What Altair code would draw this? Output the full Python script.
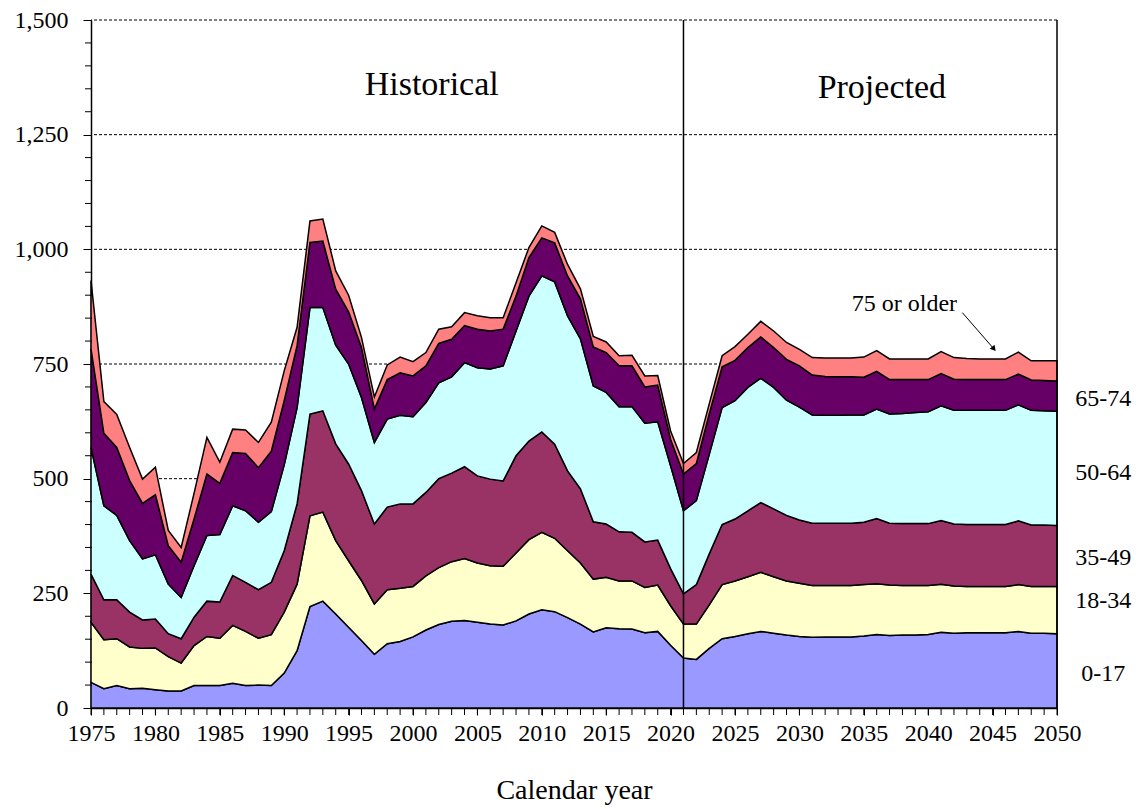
import altair as alt
import pandas as pd

years = list(range(1975, 2051))
age_groups = ["0-17", "18-34", "35-49", "50-64", "65-74", "75 or older"]
colors = ["#9999FF", "#FFFFCC", "#993366", "#CCFFFF", "#660066", "#FF8080"]

s_0_17 = [56, 42, 49, 42, 43, 40, 37, 37, 49, 49,
          49, 54, 49, 50, 49, 76, 125, 221, 233, 205,
          176, 147, 117, 140, 145, 155, 170, 182, 189, 191,
          187, 183, 181, 190, 205, 214, 210, 197, 183, 166,
          175, 173, 172, 164, 167, 137, 109, 106, 130, 151,
          156, 162, 167, 163, 159, 156, 154, 155, 155, 155,
          157, 160, 158, 159, 159, 160, 165, 163, 164, 164,
          164, 164, 167, 163, 163, 162]
s_18_34 = [131, 107, 102, 91, 87, 91, 75, 61, 87, 107,
           103, 126, 118, 102, 111, 133, 145, 198, 194, 160,
           145, 131, 110, 118, 116, 110, 118, 124, 130, 135,
           129, 127, 128, 148, 162, 169, 160, 146, 133, 115,
           110, 104, 105, 99, 101, 86, 74, 77, 95, 118,
           121, 124, 129, 123, 118, 116, 113, 112, 112, 112,
           112, 111, 110, 108, 108, 107, 105, 103, 101, 101,
           101, 101, 102, 102, 102, 103]
s_35_49 = [105, 87, 85, 76, 62, 63, 50, 53, 62, 77,
           79, 109, 107, 106, 114, 134, 175, 222, 221, 211,
           211, 196, 174, 180, 184, 180, 182, 194, 193, 200,
           190, 189, 186, 212, 215, 219, 205, 174, 162, 125,
           116, 107, 106, 99, 98, 81, 66, 86, 111, 131,
           135, 144, 152, 148, 143, 138, 136, 136, 136, 136,
           136, 142, 135, 135, 135, 135, 139, 135, 135, 135,
           135, 135, 139, 134, 134, 133]
s_50_64 = [276, 205, 184, 156, 133, 140, 108, 90, 112, 143,
           147, 152, 156, 147, 154, 187, 210, 232, 225, 215,
           218, 203, 178, 192, 193, 190, 196, 209, 210, 227,
           236, 240, 251, 272, 316, 340, 354, 338, 327, 296,
           287, 273, 274, 259, 258, 224, 181, 183, 217, 255,
           258, 269, 271, 265, 251, 246, 236, 235, 235, 236,
           234, 239, 238, 240, 242, 244, 250, 248, 249, 249,
           249, 249, 253, 250, 249, 249]
s_65_74 = [215, 158, 148, 131, 121, 131, 84, 77, 102, 134,
           112, 116, 125, 119, 132, 140, 135, 142, 145, 122,
           114, 109, 73, 86, 93, 89, 80, 86, 82, 81,
           84, 83, 80, 76, 84, 83, 85, 87, 87, 85,
           87, 89, 89, 79, 80, 58, 80, 81, 88, 89,
           88, 87, 90, 87, 89, 90, 87, 85, 84, 83,
           82, 82, 75, 74, 72, 70, 70, 68, 67, 67,
           67, 67, 67, 66, 66, 66]
s_75_plus = [149, 69, 72, 72, 53, 60, 33, 32, 56, 80,
             46, 51, 51, 55, 63, 65, 40, 47, 48, 40,
             36, 22, 26, 32, 34, 31, 29, 31, 27, 28,
             29, 29, 25, 29, 22, 26, 23, 25, 22, 23,
             23, 22, 23, 24, 21, 18, 23, 24, 22, 24,
             30, 29, 34, 36, 37, 36, 38, 40, 41, 41,
             44, 45, 45, 45, 45, 45, 48, 47, 46, 45,
             45, 45, 48, 42, 43, 44]

series = [s_0_17, s_18_34, s_35_49, s_50_64, s_65_74, s_75_plus]

x_major = list(range(1975, 2051, 5))
y_major = [0, 250, 500, 750, 1000, 1250, 1500]
y_minor = [v for v in range(0, 1501, 50) if v % 250 != 0]
grid_vals = [250, 500, 750, 1000, 1250, 1500]

rows = []
for gi, (g, vals) in enumerate(zip(age_groups, series)):
    for yr, v in zip(years, vals):
        rows.append({"year": yr, "value": v, "group": g, "order": gi})
df = pd.DataFrame(rows)

FONT = "Liberation Serif"
W, H = 966, 688

x_scale = alt.Scale(domain=[1975, 2050], nice=False, zero=False)
y_scale = alt.Scale(domain=[0, 1500], nice=False)

x_axis = alt.Axis(values=x_major, labelExpr="toString(datum.value)",
                  labelOverlap=False, labelFlush=False,
                  tickSize=7, labelPadding=6,
                  title="Calendar year", titleFont=FONT,
                  titleFontSize=28, titleFontWeight="normal",
                  titlePadding=31, titleColor="black")
y_axis = alt.Axis(values=y_major, labelExpr="format(datum.value, ',')",
                  labelOverlap=False, tickSize=8, labelPadding=15,
                  title=None)


def X(field):
    return alt.X(field, scale=x_scale, axis=x_axis)


def Y(field):
    return alt.Y(field, scale=y_scale, axis=y_axis)


grid = alt.Chart(pd.DataFrame({"v": grid_vals})).mark_rule(
    color="black", strokeWidth=1, strokeDash=[3, 2]
).encode(y=Y("v:Q"))

areas = alt.Chart(df).mark_area(
    stroke="black", strokeWidth=1.5, strokeJoin="miter", opacity=1
).encode(
    x=X("year:Q"),
    y=alt.Y("value:Q", stack="zero", scale=y_scale, axis=y_axis),
    color=alt.Color("group:N", scale=alt.Scale(domain=age_groups, range=colors),
                    legend=None),
    order=alt.Order("order:Q", sort="ascending"),
)

x_minor_ticks = alt.Chart(pd.DataFrame({"yr": years})).mark_rule(
    color="black", strokeWidth=1
).encode(x=X("yr:Q"), y=alt.value(H), y2=alt.value(H + 7))

y_minor_ticks = alt.Chart(pd.DataFrame({"v": y_minor})).mark_rule(
    color="black", strokeWidth=1
).encode(y=Y("v:Q"), x=alt.value(-6), x2=alt.value(1))

vlines = alt.Chart(pd.DataFrame({"x": [2021, 2050]})).mark_rule(
    color="black", strokeWidth=1.5
).encode(x=X("x:Q"), y=alt.value(0), y2=alt.value(H))

head_df = pd.DataFrame({"x": [2001.45, 2036.4], "y": [1358, 1352],
                        "t": ["Historical", "Projected"]})
heads = alt.Chart(head_df).mark_text(
    font=FONT, fontSize=34, color="black", align="center", baseline="middle"
).encode(x=X("x:Q"), y=Y("y:Q"), text="t:N")

lab_df = pd.DataFrame({"x": [2053.6, 2053.6, 2053.6, 2053.6, 2053.6],
                       "y": [674, 513, 326, 234, 75],
                       "t": ["65-74", "50-64", "35-49", "18-34", "0-17"]})
labs = alt.Chart(lab_df).mark_text(
    font=FONT, fontSize=24, color="black", align="center", baseline="middle"
).encode(x=X("x:Q"), y=Y("y:Q"), text="t:N")

old_df = pd.DataFrame({"x": [2038.15], "y": [881], "t": ["75 or older"]})
old = alt.Chart(old_df).mark_text(
    font=FONT, fontSize=24, color="black", align="center", baseline="middle"
).encode(x=X("x:Q"), y=Y("y:Q"), text="t:N")

arrow_df = pd.DataFrame({"x": [2042.65], "y": [862], "x2": [2045.1], "y2": [783]})
arrow = alt.Chart(arrow_df).mark_rule(color="black", strokeWidth=1).encode(
    x=X("x:Q"), y=Y("y:Q"), x2="x2:Q", y2="y2:Q")
tip = alt.Chart(arrow_df).mark_point(
    shape="triangle-up", filled=True, color="black", size=40, angle=140, opacity=1
).encode(x=X("x2:Q"), y=Y("y2:Q"))

chart = alt.layer(grid, areas, x_minor_ticks, y_minor_ticks, vlines,
                  heads, labs, old, arrow, tip).properties(
    width=W, height=H,
    padding={"left": 83, "top": 12, "right": 76, "bottom": 100},
    autosize=alt.AutoSizeParams(type="none"),
).configure_view(stroke=None).configure_axis(
    labelFont=FONT, labelFontSize=24, labelColor="black",
    domainColor="black", domainWidth=1.5, tickColor="black", tickWidth=1,
    grid=False,
)

chart.save("out.html", embed_options={"renderer": "svg", "actions": False})
